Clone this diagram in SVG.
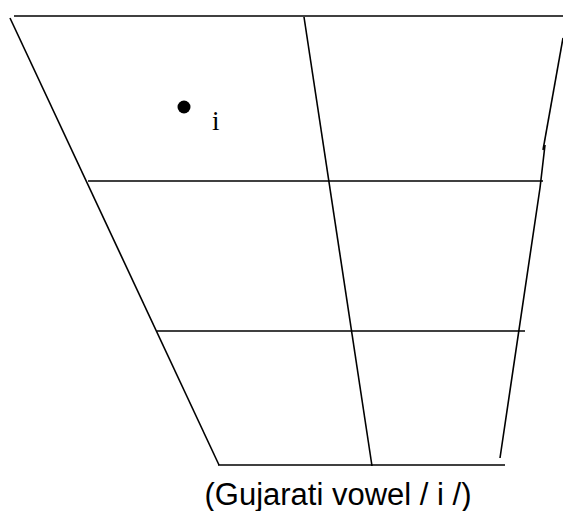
<svg xmlns="http://www.w3.org/2000/svg" width="563" height="511" viewBox="0 0 563 511">
<style>
.ln{stroke:#000;stroke-width:1.6;fill:none}
.cap{font-family:"Liberation Sans",Arial,sans-serif;font-size:31px;fill:#000}
.lbl{font-family:"Liberation Serif","Times New Roman",serif;font-size:27px;fill:#000}
</style>
<rect width="563" height="511" fill="#fff"/>
<g id="grid">
<path class="ln" d="M14,16 H563"/>
<path class="ln" d="M10,18 L219,465"/>
<path class="ln" d="M304,17 L372,466"/>
<path class="ln" d="M563,38 L543,150"/>
<path class="ln" d="M545,145 L540,188 L500,458"/>
<path class="ln" d="M88,181 H543"/>
<path class="ln" d="M157,331 H525"/>
<path class="ln" d="M218,465 H505"/>
</g>
<g id="vowel-i">
<circle cx="184" cy="107" r="6.5" fill="#000"/>
<text class="lbl" x="212" y="130">i</text>
</g>
<text class="cap" x="338" y="505" text-anchor="middle">(Gujarati vowel / i /)</text>
</svg>
